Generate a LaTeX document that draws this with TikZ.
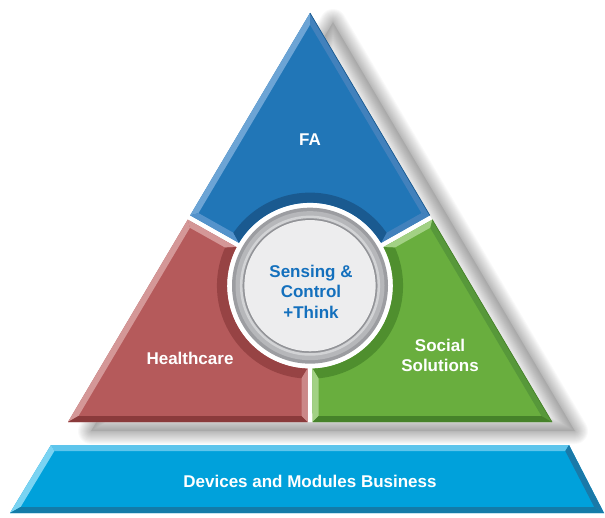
\documentclass[tikz,border=0pt]{standalone}
\usepackage{fontspec}
\setmainfont{Liberation Sans}
\definecolor{bBase}{HTML}{2176B7}
\definecolor{bLight}{HTML}{6CA4D5}
\definecolor{bMid}{HTML}{5593CB}
\definecolor{bSide}{HTML}{4281BC}
\definecolor{bDark}{HTML}{1A5A90}
\definecolor{rBase}{HTML}{B55A5B}
\definecolor{rLight}{HTML}{D49797}
\definecolor{rMid}{HTML}{CB8788}
\definecolor{rDark}{HTML}{8A3A3B}
\definecolor{rArc}{HTML}{974344}
\definecolor{gBase}{HTML}{69AE3E}
\definecolor{gLight}{HTML}{A2D184}
\definecolor{gSide}{HTML}{57983A}
\definecolor{gDark}{HTML}{46822A}
\definecolor{gArc}{HTML}{4F8F2E}
\definecolor{dBase}{HTML}{00A1DB}
\definecolor{dTop}{HTML}{5EC5EC}
\definecolor{dLight}{HTML}{7AD3F2}
\definecolor{dDark}{HTML}{1A79A8}
\definecolor{dBot}{HTML}{137BA8}
\definecolor{ringA}{HTML}{9C9DA1}
\definecolor{ringB}{HTML}{B6B7BA}
\definecolor{ringC}{HTML}{D2D3D5}
\definecolor{ringD}{HTML}{8E8F93}
\definecolor{faceC}{HTML}{EDEDEE}
\definecolor{txtBlue}{HTML}{1470BD}
\tikzset{
  lbl/.style={text=white, font=\fontsize{17}{20}\selectfont\bfseries, inner sep=0pt, align=center},
  corelbl/.style={text=txtBlue, font=\fontsize{17}{20.5}\selectfont\bfseries, inner sep=0pt, align=center},
  shadowline/.style={black, opacity=0.024, line join=round}
}
\begin{document}
\begin{tikzpicture}[x=1pt,y=1pt,yscale=-1]
\useasboundingbox (0,0) rectangle (605,517);
% ---------- coordinates ----------
\coordinate (G) at (310,285.67);
\coordinate (A) at (310,13);     \coordinate (Ai) at (310,24.8);
\coordinate (B) at (68,422);     \coordinate (Bi) at (78.5,416);
\coordinate (C) at (552,422);    \coordinate (Ci) at (541.5,416);
% blue
\coordinate (P1) at (190.2,215.3);  \coordinate (P1i) at (198.5,213.1);
\coordinate (P2) at (429.8,215.3);  \coordinate (P2i) at (421.5,213.1);
\coordinate (Q1) at (238.9,242.8);  \coordinate (Q1i) at (233.5,232.8);
\coordinate (Q2) at (381.1,242.8);  \coordinate (Q2i) at (386.5,232.8);
% red
\coordinate (P1r) at (187.75,219.67); \coordinate (P1ri) at (189.9,227.8);
\coordinate (Q1r) at (236.5,247.1);   \coordinate (Q1ri) at (225.2,247.6);
\coordinate (Q3r) at (307.5,368.6);   \coordinate (Q3ri) at (301.5,378.3);
\coordinate (P3r) at (307.5,422);     \coordinate (P3ri) at (301.5,416);
% green
\coordinate (P2g) at (432.25,219.67); \coordinate (P2gi) at (430.1,227.8);
\coordinate (Q2g) at (383.5,247.1);   \coordinate (Q2gi) at (394.8,247.6);
\coordinate (Q3g) at (312.5,368.6);   \coordinate (Q3gi) at (318.5,378.3);
\coordinate (P3g) at (312.5,422);     \coordinate (P3gi) at (318.5,416);
% bar
\coordinate (TL) at (51,445);   \coordinate (TLi) at (54.4,451);
\coordinate (TR) at (569,445);  \coordinate (TRi) at (565.3,451);
\coordinate (BR) at (604,513);  \coordinate (BRi) at (594.2,507);
\coordinate (BL) at (10,513);   \coordinate (BLi) at (20.6,507);

% ---------- shadow of the triangle ----------
\fill[black,opacity=0.10] (333,22)--(91,431)--(575,431)--cycle;
\foreach \w in {2,4,...,26}
  \draw[shadowline, line width=\w pt] (333,22)--(91,431)--(575,431)--cycle;
\fill[white] (A)--(B)--(C)--cycle;

% ---------- blue: FA ----------
\fill[bBase] (A)--(P2)--(Q2) arc[start angle=328.9,end angle=211.1,radius=83pt]--(P1)--cycle;
\fill[bLight] (A)--(P1)--(P1i)--(Ai)--cycle;
\fill[bSide] (A)--(Ai)--(P2i)--(P2)--cycle;
\fill[bMid] (P1)--(Q1)--(Q1i)--(P1i)--cycle;
\fill[bSide] (P2)--(P2i)--(Q2i)--(Q2)--cycle;
\fill[bDark] (Q1) arc[start angle=211.1,end angle=328.9,radius=83pt]--(Q2i) arc[start angle=325.4,end angle=214.6,radius=93pt]--cycle;
\draw[bDark, line width=0.7pt] (A)--(P2);

% ---------- red: Healthcare ----------
\fill[rBase] (B)--(P1r)--(Q1r) arc[start angle=207.7,end angle=91.7,radius=83pt]--(P3r)--cycle;
\fill[rLight] (B)--(P1r)--(P1ri)--(Bi)--cycle;
\fill[rLight] (P1r)--(Q1r)--(Q1ri)--(P1ri)--cycle;
\fill[rArc] (Q1r) arc[start angle=207.7,end angle=91.7,radius=83pt]--(Q3ri) arc[start angle=95.2,end angle=204.2,radius=93pt]--cycle;
\fill[rMid] (Q3r)--(P3r)--(P3ri)--(Q3ri)--cycle;
\fill[rDark] (P3r)--(B)--(Bi)--(P3ri)--cycle;

% ---------- green: Social Solutions ----------
\fill[gBase] (C)--(P2g)--(Q2g) arc[start angle=-27.7,end angle=88.3,radius=83pt]--(P3g)--cycle;
\fill[gSide] (C)--(P2g)--(P2gi)--(Ci)--cycle;
\fill[gLight] (P2g)--(Q2g)--(Q2gi)--(P2gi)--cycle;
\fill[gArc] (Q2g) arc[start angle=-27.7,end angle=88.3,radius=83pt]--(Q3gi) arc[start angle=84.8,end angle=-24.2,radius=93pt]--cycle;
\fill[gLight] (Q3g)--(P3g)--(P3gi)--(Q3gi)--cycle;
\fill[gDark] (P3g)--(C)--(Ci)--(P3gi)--cycle;
\draw[gDark, line width=0.7pt] (C)--(P2g);

% ---------- centre ring ----------
\fill[ringA] (G) circle (78pt);
\draw[ringB, line width=5pt] (G) circle (72pt);
\draw[ringC, line width=2.5pt] (G) circle (68.8pt);
\fill[ringD] (G) circle (66.6pt);
\fill[faceC] (G) circle (65.6pt);

% ---------- bottom bar ----------
\fill[dBase] (TL)--(TR)--(BR)--(BL)--cycle;
\fill[dTop] (TL)--(TR)--(TRi)--(TLi)--cycle;
\fill[dLight] (BL)--(TL)--(TLi)--(BLi)--cycle;
\fill[dDark] (TR)--(BR)--(BRi)--(TRi)--cycle;
\fill[dBot] (BR)--(BL)--(BLi)--(BRi)--cycle;

% ---------- labels ----------
\node[lbl] (fa) at (310,140) {FA};
\node[lbl] (hc) at (190,358) {Healthcare};
\node[lbl] (ss) at (440,355) {Social\\Solutions};
\node[corelbl] (core) at (311,291.5) {Sensing \&\\Control\\+Think};
\node[lbl] (dm) at (310,481) {Devices and Modules Business};
\end{tikzpicture}
\end{document}
